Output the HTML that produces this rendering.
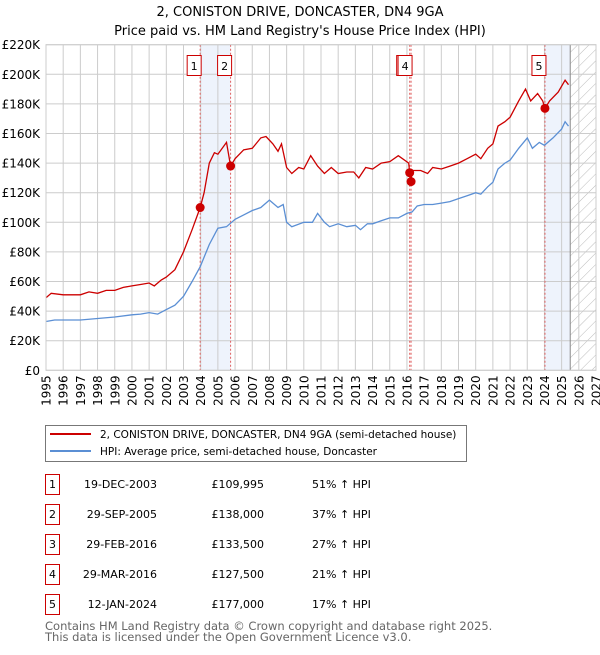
<!DOCTYPE html>
<html><head><meta charset="utf-8"><style>
body{margin:0;background:#fff;font-family:"Liberation Sans","DejaVu Sans",sans-serif;}
svg text{font-family:"DejaVu Sans","Liberation Sans",sans-serif;}
</style></head><body>
<svg id="c" width="600" height="650" xmlns="http://www.w3.org/2000/svg">
<text x="300" y="16" text-anchor="middle" font-size="13" fill="#000">2, CONISTON DRIVE, DONCASTER, DN4 9GA</text>
<text x="300" y="35" text-anchor="middle" font-size="13" fill="#000">Price paid vs. HM Land Registry's House Price Index (HPI)</text>
<g id="plot"></g>
<g>
<rect x="45.5" y="425.5" width="421" height="36" fill="#fff" stroke="#777"/>
<line x1="50" y1="434" x2="91" y2="434" stroke="#cc0000" stroke-width="2"/>
<text x="100" y="438" font-size="10.5">2, CONISTON DRIVE, DONCASTER, DN4 9GA (semi-detached house)</text>
<line x1="50" y1="451" x2="91" y2="451" stroke="#5b8fd4" stroke-width="2"/>
<text x="100" y="455" font-size="10.5">HPI: Average price, semi-detached house, Doncaster</text>
</g>
<g id="table" font-size="11"></g>
<text x="45" y="630" font-size="11.5" fill="#666">Contains HM Land Registry data © Crown copyright and database right 2025.</text>
<text x="45" y="641" font-size="11.5" fill="#666">This data is licensed under the Open Government Licence v3.0.</text>
</svg>
<script>
const yTicks=[0,20,40,60,80,100,120,140,160,180,200,220];
const xYears=[1995,1996,1997,1998,1999,2000,2001,2002,2003,2004,2005,2006,2007,2008,2009,2010,2011,2012,2013,2014,2015,2016,2017,2018,2019,2020,2021,2022,2023,2024,2025,2026,2027];
const hpiT=[1995,1995.5,1996,1997,1998,1999,2000,2000.5,2001,2001.5,2002,2002.5,2003,2003.5,2003.97,2004.5,2005,2005.5,2006,2006.5,2007,2007.5,2008,2008.5,2008.8,2009,2009.3,2010,2010.5,2010.8,2011.2,2011.5,2012,2012.5,2013,2013.3,2013.7,2014,2014.5,2015,2015.5,2016,2016.3,2016.6,2017,2017.5,2018,2018.5,2019,2019.5,2020,2020.3,2020.7,2021,2021.3,2021.7,2022,2022.5,2023,2023.3,2023.7,2024,2024.5,2025,2025.2,2025.4];
const hpiV=[33,34,34,34,35,36,37.5,38,39,38,41,44,50,60,70,85,96,97,102,105,108,110,115,110,112,100,97,100,100,106,100,97,99,97,98,95,99,99,101,103,103,106,107,111,112,112,113,114,116,118,120,119,124,127,136,140,142,150,157,150,154,152,157,163,168,165];
const prT=[1995,1995.3,1996,1997,1997.5,1998,1998.5,1999,1999.5,2000,2000.5,2001,2001.3,2001.7,2002,2002.5,2003,2003.5,2003.97,2004.2,2004.5,2004.8,2005,2005.5,2005.74,2006,2006.5,2007,2007.5,2007.8,2008.2,2008.5,2008.7,2009,2009.3,2009.7,2010,2010.4,2010.8,2011.2,2011.6,2012,2012.5,2012.9,2013.2,2013.6,2014,2014.5,2015,2015.5,2016.1,2016.16,2016.24,2016.3,2016.8,2017.2,2017.5,2018,2018.5,2019,2019.5,2020,2020.3,2020.7,2021,2021.3,2021.7,2022,2022.5,2022.9,2023.2,2023.6,2023.9,2024.03,2024.3,2024.8,2025.2,2025.4];
const prV=[49,52,51,51,53,52,54,54,56,57,58,59,57,61,63,68,80,95,110,120,140,147,146,154,138,143,149,150,157,158,153,148,153,137,133,137,136,145,138,133,137,133,134,134,130,137,136,140,141,145,140,133.5,127.5,135,135,133,137,136,138,140,143,146,143,150,153,165,168,171,182,190,182,187,182,177,182,188,196,193];
const saleLabels=["1","2","3","4","5"];
const saleT=[2003.97,2005.74,2016.16,2016.24,2024.03];
const saleV=[109.995,138,133.5,127.5,177];
const saleDates=["19-DEC-2003","29-SEP-2005","29-FEB-2016","29-MAR-2016","12-JAN-2024"];
const salePrices=["£109,995","£138,000","£133,500","£127,500","£177,000"];
const salePct=["51% ↑ HPI","37% ↑ HPI","27% ↑ HPI","21% ↑ HPI","17% ↑ HPI"];
const dataEnd=2025.5;

const L=46,R=596,T=44.7,B=370.3;
const X=t=>L+(t-1995)*(R-L)/32;
const Y=v=>B-v*(B-T)/220;
const NS="http://www.w3.org/2000/svg";
const plot=document.getElementById('plot');
function mk(tag,attrs,parent){const e=document.createElementNS(NS,tag);for(const k in attrs)e.setAttribute(k,attrs[k]);(parent||plot).appendChild(e);return e;}
const sh1=mk('rect',{x:X(saleT[0]),y:T,width:X(saleT[1])-X(saleT[0]),height:B-T,fill:'#eef3fc'});


const sh2=mk('rect',{x:X(saleT[4]),y:T,width:X(dataEnd)-X(saleT[4]),height:B-T,fill:'#eef3fc'});


const defs=mk('defs',{});
const pat=mk('pattern',{id:'h',width:8,height:8,patternUnits:'userSpaceOnUse',patternTransform:'rotate(45)'},defs);
mk('line',{x1:0,y1:0,x2:0,y2:8,stroke:'#bbb','stroke-width':1},pat);
const hz=mk('rect',{x:X(dataEnd),y:T,width:R-X(dataEnd),height:B-T,fill:'url(#h)'});


yTicks.forEach(v=>{
  mk('line',{x1:L,x2:R,y1:Y(v),y2:Y(v),stroke:'#ccc','stroke-width':1});
  const t=mk('text',{x:L-6,y:Y(v)+4.5,'text-anchor':'end','font-size':12});
  t.textContent='£'+(v===0?'0':v+'K');
  
  
});
xYears.forEach(y=>{
  mk('line',{x1:X(y),x2:X(y),y1:T,y2:B,stroke:'#ccc','stroke-width':1});
  const t=mk('text',{x:0,y:0,'text-anchor':'end','font-size':12,transform:`translate(${X(y)+4.5},${B+5}) rotate(-90)`});
  t.textContent=y;
  
  
});
mk('line',{x1:X(dataEnd),x2:X(dataEnd),y1:T,y2:B,stroke:'#888','stroke-width':1});
saleT.forEach(t=>mk('line',{x1:X(t),x2:X(t),y1:T,y2:B,stroke:'#e06060','stroke-width':1,'stroke-dasharray':'2,2'}));
const pts=(ts,vs)=>ts.map((t,i)=>X(t).toFixed(1)+','+Y(vs[i]).toFixed(1)).join(' ');
const hl=mk('polyline',{points:pts(hpiT,hpiV),fill:'none',stroke:'#5b8fd4','stroke-width':1.3});


const pl=mk('polyline',{points:pts(prT,prV),fill:'none',stroke:'#cc0000','stroke-width':1.3});


saleT.forEach((t,i)=>{
  const c=mk('circle',{cx:X(t),cy:Y(saleV[i]),r:4.5,fill:'#cc0000'});
  
  
});
saleT.forEach((t,i)=>{
  const cx=X(t)-6;
  const g=mk('g',{});
  
  
  mk('rect',{x:cx-7,y:55.5,width:14,height:20,fill:'#fff',stroke:'#cc0000','stroke-width':1},g);
  const tx=mk('text',{x:cx,y:70,'text-anchor':'middle','font-size':11},g);
  tx.textContent=saleLabels[i];
});
mk('rect',{x:L,y:T,width:R-L,height:B-T,fill:'none',stroke:'#ccc'});
const tb=document.getElementById('table');
saleLabels.forEach((s,i)=>{
  const y=484+i*30;
  const g=mk('g',{},tb);
  
  
  mk('rect',{x:45.5,y:y-9.5,width:14,height:20,fill:'#fff',stroke:'#cc0000'},g);
  let t=mk('text',{x:52.5,y:y+4,'text-anchor':'middle'},g);t.textContent=s;
  t=mk('text',{x:157,y:y+4,'text-anchor':'end'},g);t.textContent=saleDates[i];
  t=mk('text',{x:264,y:y+4,'text-anchor':'end'},g);t.textContent=salePrices[i];
  t=mk('text',{x:312,y:y+4},g);t.textContent=salePct[i];
});
</script>
</body></html>
